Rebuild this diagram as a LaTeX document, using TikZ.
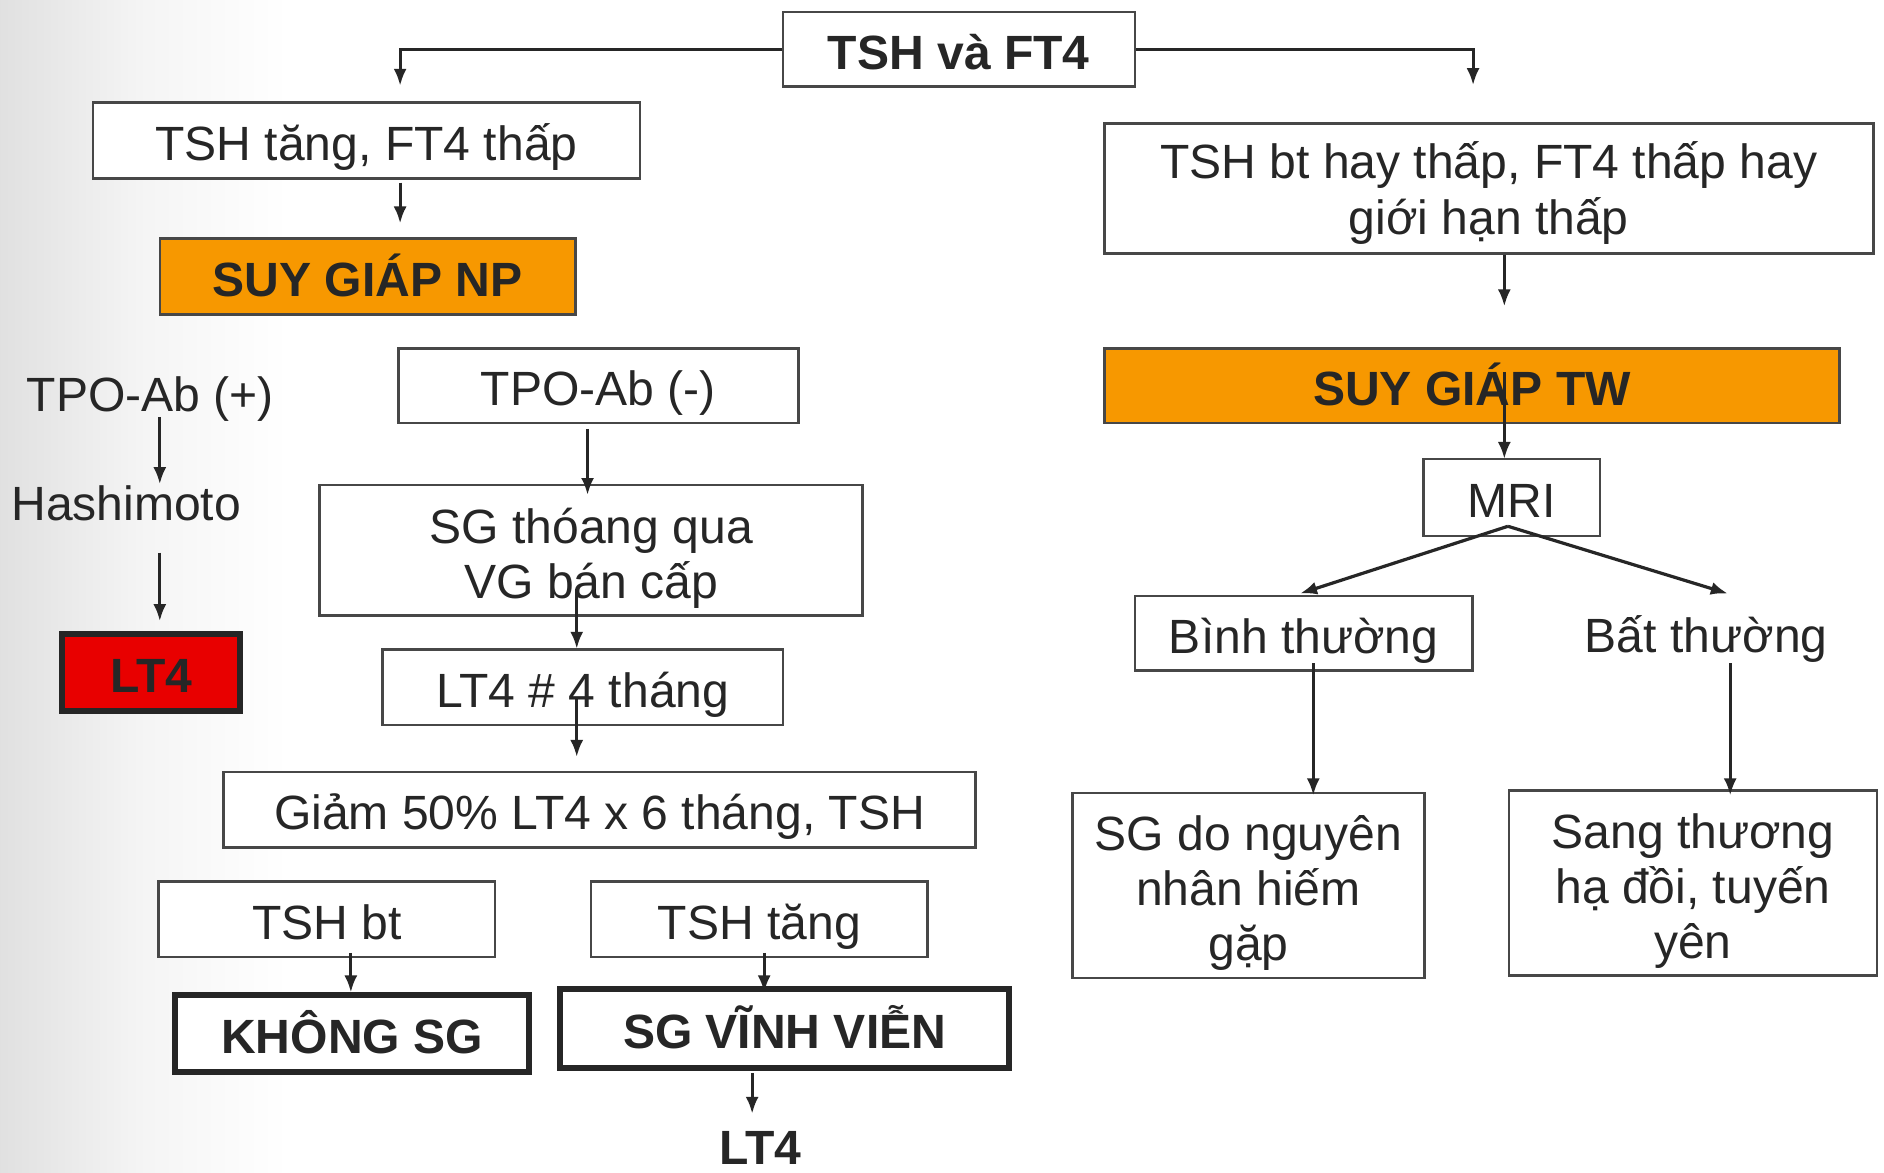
\documentclass[tikz,border=0pt]{standalone}
\usepackage{fontspec}
\setmainfont{Liberation Sans}
\usetikzlibrary{arrows.meta,calc}

\definecolor{boxorange}{RGB}{247,152,0}
\definecolor{boxred}{RGB}{232,0,0}
\definecolor{ink}{RGB}{38,38,38}

% lowers the first line of a multi-line box
\newcommand\firstlow[1]{\rule{0pt}{#1em}}

\tikzset{
  sized/.style 2 args={minimum width=#1*0.6pt, minimum height=#2*0.6pt},
  txt/.style={inner sep=0pt, text=ink, font=\fontsize{24}{27.5}\selectfont},
  boldtxt/.style={txt, font=\fontsize{24}{27.5}\selectfont\bfseries},
  oneline/.style={text height=19.8pt, text depth=0pt},
  multi/.style={text height=, text depth=, align=center},
  box/.style={txt, oneline, draw=ink!85, line width=1.3pt, fill=white},
  hotbox/.style={boldtxt, oneline, draw=ink!85, line width=1.3pt, fill=boxorange},
  heavybox/.style={boldtxt, oneline, draw=ink, line width=3pt, fill=white},
  arr/.style={-{Latex[length=8.5pt,width=6.5pt]}, line width=1.6pt, draw=ink},
}

\begin{document}
\begin{tikzpicture}[x=0.6pt, y=-0.6pt]
    \useasboundingbox (0,0) rectangle (1568,976);
    % Background
    \fill[white] (0,0) rectangle (1568,976);
    \shade[left color=black!12, right color=white, middle color=black!4] (0,0) rectangle (240,976);

    % Top
    \node[box, boldtxt, sized={293}{62}] (top) at (798,41) {TSH và FT4};

    % Left branch
    \node[box, sized={455}{63}] (tshnp) at (305,117) {TSH tăng, FT4 thấp};
    \node[hotbox, sized={346}{63}] (np) at (306,230) {SUY GIÁP NP};
    \node[txt] (tpopos) at (125,332) {TPO-Ab (+)};
    \node[txt] (hashi) at (105,419) {Hashimoto};
    \node[heavybox, fill=boxred, sized={148}{64}] (lt4a) at (126,560) {LT4};
    \node[box, sized={333}{62}] (tponeg) at (498,321) {TPO-Ab (-)};
    \node[box, multi, sized={452}{109}] (sgtq) at (492,458) {\firstlow{1.05}SG thóang qua\\VG bán cấp};
    \node[box, sized={333}{63}] (lt4m) at (485,572) {LT4 \# 4 tháng};
    \node[box, sized={626}{63}] (giam) at (499,674) {Giảm 50\% LT4 x 6 tháng, TSH};
    \node[box, sized={280}{63}] (tshbt) at (272,765) {TSH bt};
    \node[box, sized={280}{63}] (tshtang) at (632,765) {TSH tăng};
    \node[heavybox, sized={294}{64}] (khong) at (293,860) {KHÔNG SG};
    \node[heavybox, sized={374}{65}] (vinh) at (653,856) {SG VĨNH VIỄN};
    \node[boldtxt] (lt4b) at (633,955) {LT4};

    % Right branch
    \node[box, multi, sized={640}{108}] (tshlow) at (1239,157) {\firstlow{0.95}TSH bt hay thấp, FT4 thấp hay\\giới hạn thấp};
    \node[hotbox, sized={612}{62}] (tw) at (1225,321) {SUY GIÁP TW};
    \node[box, sized={147}{64}] (mri) at (1258,414) {MRI};
    \node[box, sized={281}{62}] (binh) at (1085,527) {Bình thường};
    \node[txt] (bat) at (1420,532) {Bất thường};
    \node[box, multi, sized={293}{154}] (hiem) at (1039,737) {\firstlow{1.05}SG do nguyên\\nhân hiếm\\gặp};
    \node[box, multi, sized={306}{154}] (sang) at (1409,735) {\firstlow{1.05}Sang thương\\hạ đồi, tuyến\\yên};

    % Connectors
    \draw[arr] (top.west) -| ($(tshnp.north)+(28,-13)$);
    \draw[arr] (top.east) -| ($(tshlow.north)+(-13,-31)$);
    \draw[arr] ($(tshnp)+(28,35)$) -- ($(np)+(27,-44)$);
    \draw[arr] ($(tpopos)+(8,15)$) -- ($(hashi)+(28,-16)$);
    \draw[arr] ($(hashi)+(28,41)$) -- ($(lt4a)+(7,-43)$);
    \draw[arr] ($(tponeg)+(-9,36)$) -- ($(sgtq)+(-3,-46)$);
    \draw[arr] ($(sgtq)+(-12,32)$) -- ($(lt4m)+(-5,-32)$);
    \draw[arr] ($(lt4m)+(-5,10)$) -- ($(giam)+(-19,-44)$);
    \draw[arr] ($(tshbt)+(20,28)$) -- ($(khong)+(-1,-34)$);
    \draw[arr] ($(tshtang)+(4,28)$) -- ($(vinh)+(-17,-30)$);
    \draw[arr] ($(vinh)+(-27,37)$) -- ($(lt4b)+(-7,-28)$);
    \draw[arr] ($(tshlow)+(13,55)$) -- ($(tw)+(27,-66)$);
    \draw[arr] ($(tw)+(27,-11)$) -- ($(mri)+(-6,-32)$);
    \draw[arr] ($(mri)+(-3,24)$) -- ($(binh)+(-3,-33)$);
    \draw[arr] ($(mri)+(-3,24)$) -- ($(bat)+(18,-38)$);
    \draw[arr] ($(binh)+(8,25)$) -- ($(hiem)+(54,-75)$);
    \draw[arr] ($(bat)+(20,20)$) -- ($(sang)+(31,-73)$);
\end{tikzpicture}
\end{document}
